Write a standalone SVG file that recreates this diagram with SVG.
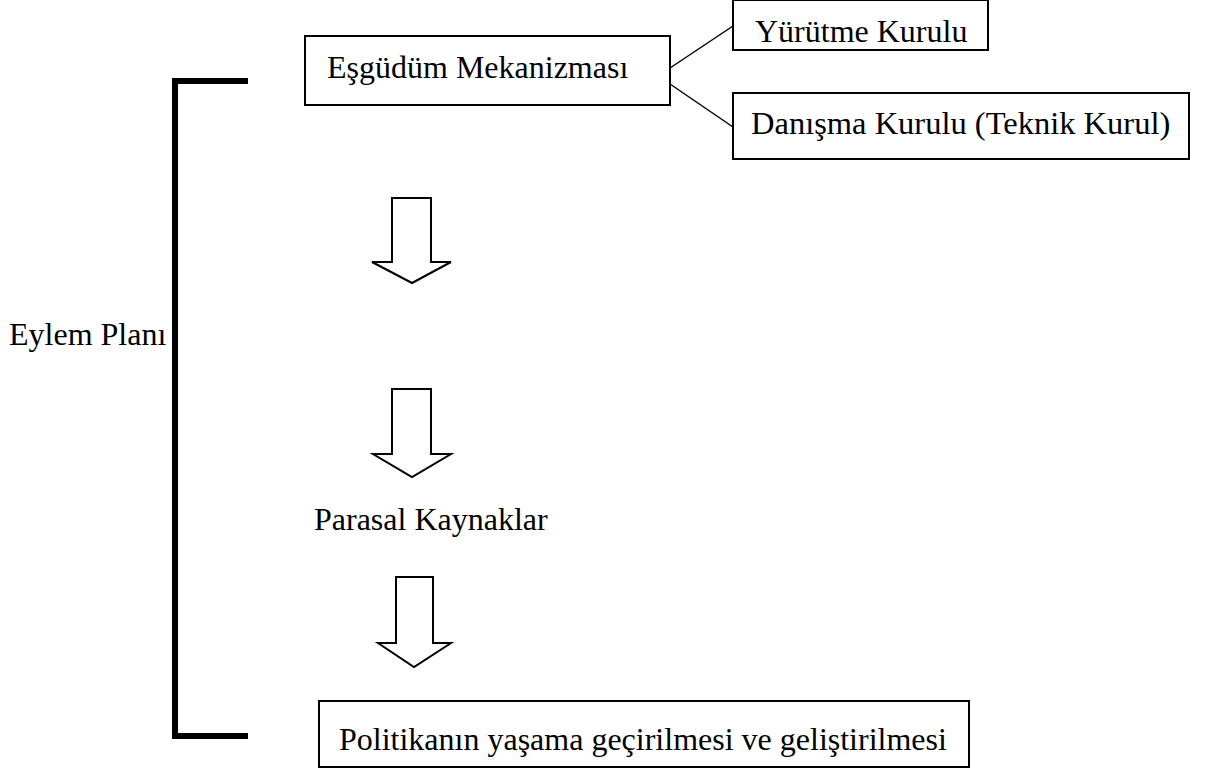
<svg xmlns="http://www.w3.org/2000/svg" width="1213" height="771" viewBox="0 0 1213 771">
<style>
.box{fill:#fff;stroke:#000;stroke-width:2}
.t{font-family:"Liberation Serif","Times New Roman",serif;font-size:32px;fill:#000}
.arr{fill:#fff;stroke:#000;stroke-width:2;stroke-linejoin:miter}
.ln{stroke:#000;stroke-width:1.5;fill:none}
</style>
<rect width="1213" height="771" fill="#fff"/>
<g id="bracket">
<path d="M248,81 H175 V736 H248" fill="none" stroke="#000" stroke-width="6"/>
</g>
<g id="connectors">
<line class="ln" x1="670" y1="68" x2="733" y2="26"/>
<line class="ln" x1="670" y1="84" x2="733" y2="127"/>
<polygon class="arr" points="392,198 431,198 431,262 451,262 412,283 372,262 392,262"/>
<polygon class="arr" points="392,389 431,389 431,454 451,454 412,477 373,454 392,454"/>
<polygon class="arr" points="396,577 433,577 433,643 451,643 414,667 378,643 396,643"/>
</g>
<g id="esgudum">
<rect class="box" x="305" y="36" width="365" height="69"/>
<text class="t" x="327" y="78">Eşgüdüm Mekanizması</text>
</g>
<g id="yurutme">
<rect class="box" x="733" y="0" width="255" height="50"/>
<text class="t" x="755" y="42">Yürütme Kurulu</text>
</g>
<g id="danisma">
<rect class="box" x="733" y="93" width="456" height="66"/>
<text class="t" x="751" y="134" style="font-size:32.5px">Danışma Kurulu (Teknik Kurul)</text>
</g>
<g id="eylem">
<text class="t" x="9" y="345">Eylem Planı</text>
</g>
<g id="parasal">
<text class="t" x="314" y="530">Parasal Kaynaklar</text>
</g>
<g id="politika">
<rect class="box" x="319" y="701" width="650" height="66"/>
<text class="t" x="339" y="750">Politikanın yaşama geçirilmesi ve geliştirilmesi</text>
</g>
</svg>
